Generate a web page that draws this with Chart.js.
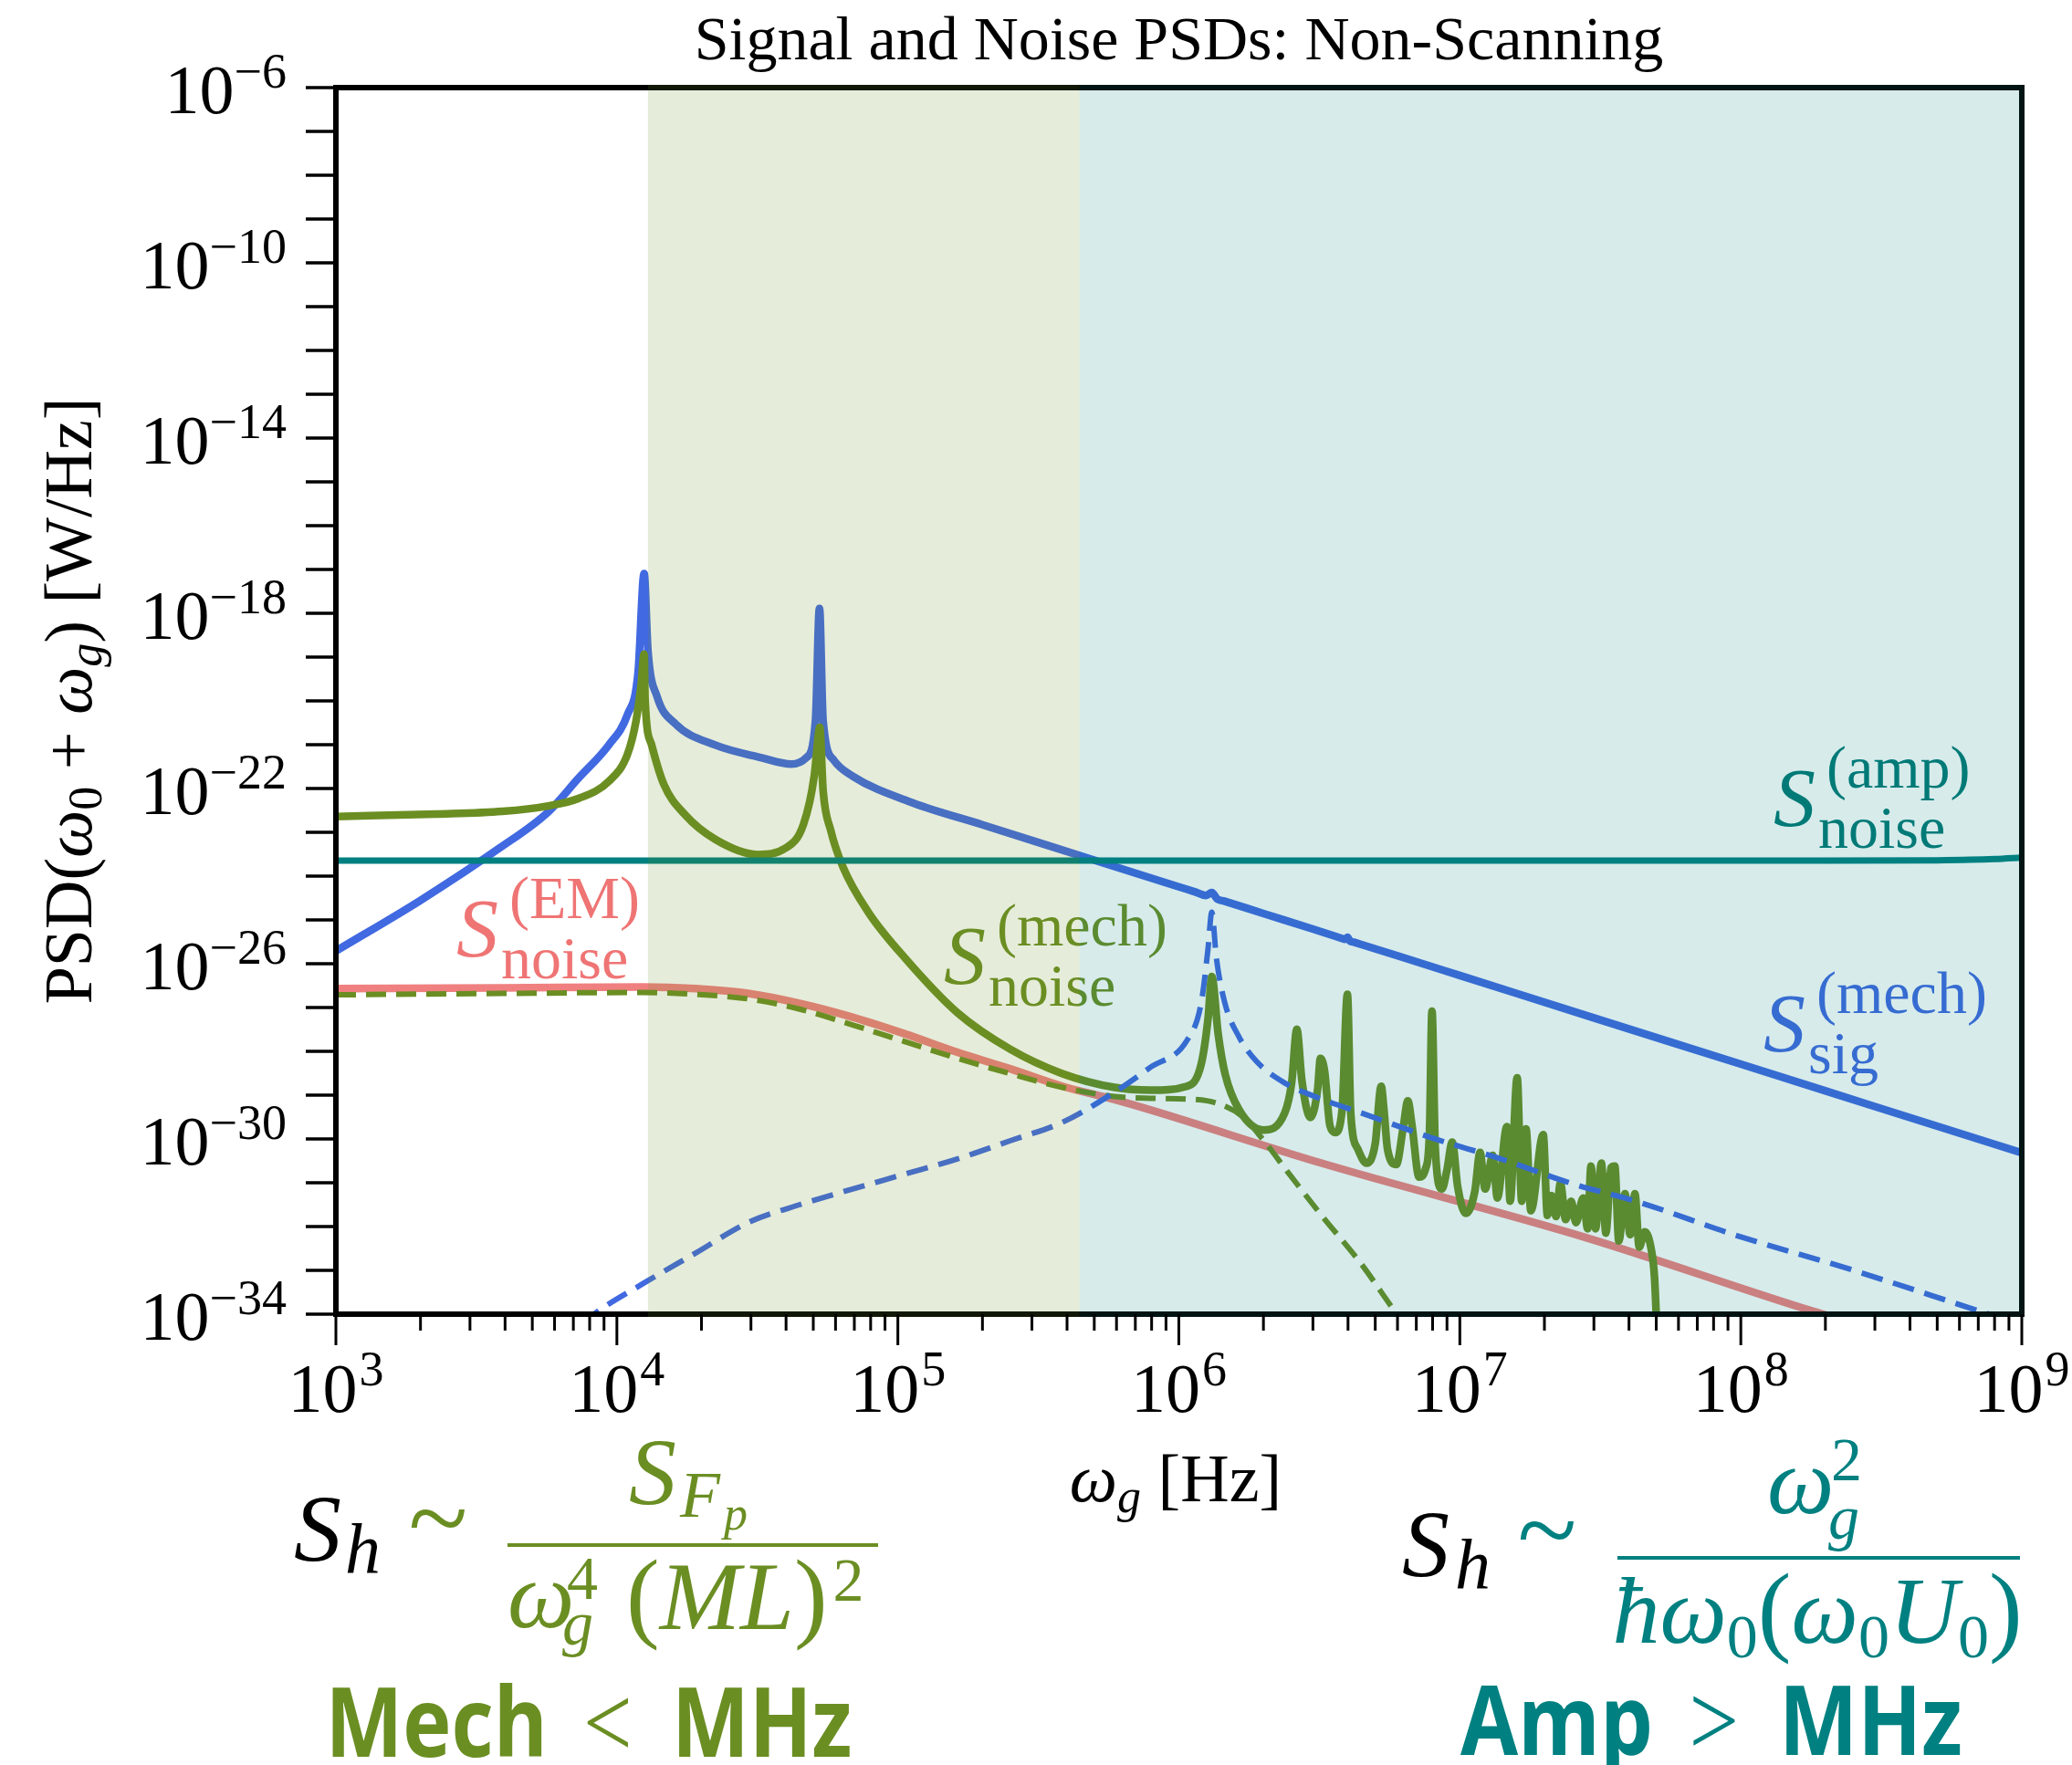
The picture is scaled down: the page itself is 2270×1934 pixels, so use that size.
<!DOCTYPE html>
<html>
<head>
<meta charset="utf-8">
<script src="https://cdn.jsdelivr.net/npm/chart.js@4.4.1/dist/chart.umd.min.js"></script>
<style>
  html, body { margin: 0; padding: 0; background: #fff; }
</style>
</head>
<body>
<canvas id="psdChart" width="2270" height="1934"></canvas>
<script>
// ===== PSD data (frequency in Hz, PSD in W/Hz) =====

const ampFreq = [1e3, 1e5, 1e7, 2e8, 5e8, 8e8, 1e9];
const ampPsd  = [2.25e-24, 2.25e-24, 2.25e-24, 2.25e-24, 2.3e-24, 2.45e-24, 2.65e-24];

const sigFreq = [1000, 2000, 3810, 5690, 7290, 9350, 10900, 11900, 12500, 12900,
  13900, 16200, 22400, 32500, 41800, 47300, 50900, 52600, 54200, 59200,
  68700, 113000, 2e5, 5e5, 1e6, 1.15e6, 1.25e6, 1.31e6, 1.37e6, 1.45e6,
  2e6, 3e6, 3.8e6, 3.9e6, 3.98e6, 4.07e6, 4.2e6, 6e6, 1e7, 3e7,
  1e8, 3e8, 1e9];
const sigPsd = [1.95e-26, 2.8e-25, 4.3e-24, 2.9e-23, 1.7e-22, 9.8e-22, 4.8e-21, 4.5e-20, 8.1e-18, 1.38e-19,
  1.26e-20, 2.95e-21, 9.8e-22, 5.1e-22, 3.6e-22, 5.1e-22, 3.5e-21, 1.29e-18, 3.5e-21, 4.4e-22,
  1.95e-22, 4.7e-23, 1.49e-23, 2.32e-24, 5.7e-25, 4.3e-25, 3.6e-25, 4.2e-25, 3.0e-25, 2.69e-25,
  1.4e-25, 6.2e-26, 3.8e-26, 3.6e-26, 4.0e-26, 3.3e-26, 3.1e-26, 1.52e-26, 5.4e-27, 5.8e-28,
  5.1e-29, 5.5e-30, 4.8e-31];

// signal without the mechanical mode (dashed blue)
const sigDashFreq = [7500, 8400, 12400, 19100, 29300, 45000, 69000, 106000, 163000, 251000,
  385000, 591000, 791000, 1.07e6, 1.20e6, 1.27e6, 1.31e6, 1.36e6, 1.46e6, 1.64e6,
  1.89e6, 2.38e6, 3.35e6, 4.47e6, 7.91e6, 1.40e7, 2.48e7, 4.40e7, 9.48e7, 2.46e8,
  7.30e8, 1e9];
const sigDashPsd = [5.8e-35, 1.07e-34, 5.0e-34, 2.5e-33, 1.23e-32, 3.2e-32, 7.2e-32, 1.58e-31, 3.5e-31, 9.1e-31,
  2.4e-30, 1.17e-29, 4.3e-29, 1.8e-28, 1.23e-27, 2.2e-26, 1.5e-25, 1.35e-26, 1.23e-27, 2.1e-28,
  5.9e-29, 1.9e-29, 7.4e-30, 3.9e-30, 1.07e-30, 3.5e-31, 9.8e-32, 3.5e-32, 6.5e-33, 1.05e-33,
  1.1e-34, 5.8e-35];

const mechFreq = [1000, 2280, 3910, 5690, 7290, 9350, 10900, 11700, 12200, 12500,
  12600, 13300, 14700, 17500, 22400, 31700, 39700, 46100, 50400, 52200,
  52700, 54200, 57700, 63800, 78500, 106000, 163000, 251000, 385000, 591000,
  791000,
  1.07e6, 1.20e6, 1.27e6, 1.31e6, 1.38e6, 1.46e6, 1.64e6, 2.00e6, 2.38e6, 2.52e6,
  2.63e6, 2.74e6, 2.94e6, 3.12e6, 3.19e6, 3.30e6, 3.45e6, 3.60e6, 3.81e6, 3.98e6,
  4.09e6, 4.34e6, 4.66e6, 5.00e6, 5.25e6, 5.37e6, 5.53e6, 5.94e6, 6.30e6, 6.53e6,
  6.76e6, 7.16e6, 7.57e6, 7.80e6, 7.96e6, 8.18e6, 8.63e6, 8.99e6, 9.40e6, 9.82e6,
  1.05e7, 1.13e7, 1.18e7, 1.23e7, 1.31e7, 1.36e7, 1.47e7, 1.51e7, 1.60e7, 1.66e7,
  1.72e7, 1.79e7, 1.98e7, 2.05e7, 2.12e7, 2.20e7, 2.28e7, 2.38e7, 2.49e7, 2.59e7,
  2.75e7, 2.85e7, 2.93e7, 3.04e7, 3.19e7, 3.31e7, 3.45e7, 3.56e7, 3.68e7, 3.87e7,
  4.04e7, 4.20e7, 4.35e7, 4.55e7, 4.80e7, 4.93e7, 5.07e7];
const mechPsd = [2.3e-23, 2.6e-23, 3.0e-23, 4.0e-23, 5.9e-23, 1.45e-22, 6.0e-22, 3.5e-21, 2.4e-20, 1.17e-19,
  1.07e-20, 9.8e-22, 1.23e-22, 2.5e-23, 6.9e-24, 3.1e-24, 4.3e-24, 1.5e-23, 1.95e-22, 1.8e-21,
  2.5e-21, 8.9e-23, 1.1e-23, 1.6e-24, 1.5e-25, 1.35e-26, 7.6e-28, 1.12e-28, 3.1e-29, 1.5e-29,
  1.3e-29,
  1.6e-29, 5.0e-29, 5.5e-28, 5.1e-27, 2.5e-28, 3.1e-29, 4.6e-30, 1.6e-30, 3.9e-30, 1.9e-29,
  3.2e-28, 2.2e-29, 3.1e-30, 1.4e-29, 6.9e-29, 3.6e-29, 2.0e-30, 1.4e-30, 4.6e-30, 2.0e-27,
  3.9e-30, 5.8e-31, 2.8e-31, 7.9e-31, 1.6e-29, 4.6e-30, 5.8e-31, 2.6e-31, 2.0e-30, 7.4e-30,
  2.0e-30, 1.35e-31, 2.2e-31, 1.5e-30, 8.3e-28, 5.8e-31, 7.2e-32, 1.9e-31, 8.5e-31, 8.3e-32,
  2.0e-32, 6.2e-32, 4.9e-31, 7.2e-32, 4.2e-31, 4.5e-32, 1.9e-30, 3.8e-32, 2.5e-29, 3.8e-32,
  1.7e-30, 2.3e-32, 1.26e-30, 1.8e-32, 5.1e-32, 1.7e-32, 9.8e-32, 1.45e-32, 3.8e-32, 1.23e-32,
  4.5e-32, 8.9e-33, 2.4e-31, 8.9e-33, 2.8e-31, 7.1e-33, 2.2e-31, 2.4e-31, 4.7e-33, 5.6e-32,
  6.5e-33, 5.6e-32, 3.4e-33, 7.6e-33, 3.0e-33, 6.9e-34, 1e-35];

// smooth mechanical noise floor without the modes (dashed green)
const mechDashFreq = [1000, 3910, 12400, 19100, 29300, 45000, 69000, 106000, 163000, 251000,
  385000, 591000, 791000, 1.09e6, 1.36e6, 1.68e6, 1.98e6, 2.45e6, 3.22e6, 4.46e6,
  5.97e6, 7.66e6];
const mechDashPsd = [1.95e-27, 2.1e-27, 2.2e-27, 2.0e-27, 1.58e-27, 9.1e-28, 4.0e-28, 1.66e-28, 6.9e-29, 3.1e-29,
  1.5e-29, 9.3e-30, 8.5e-30, 8.1e-30, 6.6e-30, 3.3e-30, 1.02e-30, 1.7e-31, 1.8e-32, 1.4e-33,
  1.0e-34, 1.26e-35];

const emFreq = [1000, 3910, 12400, 19100, 29300, 45000, 69000, 106000, 163000, 251000,
  385000, 591000, 791000, 3.22e6, 2.81e7, 1.82e8, 2.45e8];
const emPsd = [2.7e-27, 2.8e-27, 2.95e-27, 2.7e-27, 2.1e-27, 1.23e-27, 6.0e-28, 2.5e-28, 9.5e-29, 4.0e-29,
  1.6e-29, 7.9e-30, 4.6e-30, 2.8e-31, 5.6e-33, 1.15e-34, 6.6e-35];

// shaded bands: mechanical-limited and amplifier-limited ranges
const mechBand = [1.29e4, 4.43e5];
const ampBand = [4.43e5, 1e9];

// axis decades
const xTickExps = [3, 4, 5, 6, 7, 8, 9];
const yTickExps = [-6, -10, -14, -18, -22, -26, -30, -34];

const SERIF = '"Liberation Serif", "DejaVu Serif", serif';
const SANS = '"Open Sans", "DejaVu Sans", sans-serif';
const rm = s => `${s}px ${SERIF}`;
const it = s => `italic ${s}px ${SERIF}`;
const bf = s => `bold ${s}px ${SANS}`;

const OLIVE = '#6b8e23';
const TEAL = '#008080';
const BLUE = '#4169e1';
const CORAL = '#f08080';

function toPoints(freqs, vals) {
    return freqs.map((f, i) => ({ x: f, y: vals[i] }));
}

function measureRuns(ctx, parts) {
    let total = 0;
    parts.forEach(p => {
        ctx.font = p.f;
        p.w = ctx.measureText(p.t).width;
        total += p.w + (p.gap || 0);
    });
    return total;
}

// draws a row of text pieces with their own fonts / offsets
function drawRuns(ctx, parts, x, y, align) {
    const total = measureRuns(ctx, parts);
    let cx = align === 'center' ? x - total / 2 : align === 'right' ? x - total : x;
    ctx.textAlign = 'left';
    parts.forEach(p => {
        cx += p.gap || 0;
        ctx.font = p.f;
        if (p.c) ctx.fillStyle = p.c;
        ctx.fillText(p.t, cx, y + (p.dy || 0));
        cx += p.w;
    });
}

// same, squeezed horizontally to a given width (centred on x)
function drawRunsFit(ctx, parts, x, y, width) {
    const total = measureRuns(ctx, parts);
    ctx.save();
    ctx.translate(x - width / 2, y);
    ctx.scale(width / total, 1);
    drawRuns(ctx, parts, 0, 0, 'left');
    ctx.restore();
}

// S with superscript and subscript, used for the curve labels
function drawSymbol(ctx, x, y, sup, sub, color) {
    ctx.fillStyle = color;
    ctx.textAlign = 'left';
    ctx.font = it(92);
    ctx.fillText('S', x, y);
    ctx.font = rm(66);
    ctx.fillText(sup, x + 58, y - 42);
    ctx.fillText(sub, x + 49, y + 24);
}

function drawTilde(ctx, cx, cy, color) {
    ctx.font = rm(120);
    ctx.fillStyle = color;
    const m = ctx.measureText('~');
    const h = m.actualBoundingBoxAscent - m.actualBoundingBoxDescent;
    ctx.textAlign = 'center';
    ctx.fillText('~', cx, cy + h / 2 + m.actualBoundingBoxDescent);
    ctx.textAlign = 'left';
}

const decorPlugin = {
    id: 'psdDecor',
    afterDatasetsDraw(chart) {
        const { ctx, chartArea: a, scales: { x, y } } = chart;
        ctx.save();
        ctx.textBaseline = 'alphabetic';

        // curve labels
        drawSymbol(ctx, 500, 1048, '(EM)', 'noise', '#ef7474');
        drawSymbol(ctx, 1034, 1078, '(mech)', 'noise', OLIVE);
        drawSymbol(ctx, 1943, 905, '(amp)', 'noise', '#007a76');
        drawSymbol(ctx, 1932, 1152, '(mech)', 'sig', BLUE);

        // frame
        ctx.strokeStyle = '#000';
        ctx.lineWidth = 6;
        ctx.strokeRect(a.left, a.top, a.right - a.left, a.bottom - a.top);

        // shaded bands laid over everything inside the axes
        ctx.save();
        ctx.beginPath();
        ctx.rect(a.left - 3, a.top - 3, a.right - a.left + 6, a.bottom - a.top + 6);
        ctx.clip();
        const band = (r, fill) => {
            const x0 = x.getPixelForValue(r[0]);
            const x1 = r[1] >= x.max ? a.right + 3 : x.getPixelForValue(r[1]);
            ctx.fillStyle = fill;
            ctx.fillRect(x0, a.top - 3, x1 - x0, a.bottom - a.top + 6);
        };
        band(mechBand, 'rgba(107, 142, 35, 0.17)');
        band(ampBand, 'rgba(0, 128, 128, 0.155)');
        ctx.restore();

        // ticks
        ctx.fillStyle = '#000';
        for (let e = -34; e <= -6; e++) {
            const py = y.getPixelForValue(Math.pow(10, e));
            ctx.fillRect(a.left - 33, py - 1.75, 33, 3.5);
        }
        for (let e = 3; e <= 9; e++) {
            const px = x.getPixelForValue(Math.pow(10, e));
            ctx.fillRect(px - 1.5, a.bottom, 3, 34);
            if (e < 9) {
                for (let m = 2; m <= 9; m++) {
                    const q = x.getPixelForValue(m * Math.pow(10, e));
                    ctx.fillRect(q - 1.5, a.bottom, 3, 18);
                }
            }
        }

        // tick labels
        yTickExps.forEach(e => {
            const py = y.getPixelForValue(Math.pow(10, e));
            drawRuns(ctx, [
                { t: '10', f: rm(76) },
                { t: '\u2212' + Math.abs(e), f: rm(54), dy: -28 }
            ], 314, py + 28, 'right');
        });
        xTickExps.forEach(e => {
            const px = x.getPixelForValue(Math.pow(10, e));
            drawRuns(ctx, [
                { t: '10', f: rm(76) },
                { t: String(e), f: rm(54), dy: -29, gap: 2 }
            ], px, 1547, 'center');
        });

        // title and axis titles
        ctx.fillStyle = '#000';
        ctx.font = rm(68);
        ctx.textAlign = 'center';
        ctx.fillText('Signal and Noise PSDs: Non-Scanning', (a.left + a.right) / 2, 65);

        drawRuns(ctx, [
            { t: '\u03c9', f: it(74) },
            { t: 'g', f: it(52), dy: 12 },
            { t: ' [Hz]', f: rm(74) }
        ], 1288, 1645, 'center');

        ctx.save();
        ctx.translate(100, (a.top + a.bottom) / 2);
        ctx.rotate(-Math.PI / 2);
        drawRuns(ctx, [
            { t: 'PSD(', f: rm(74) },
            { t: '\u03c9', f: it(74) },
            { t: '0', f: rm(52), dy: 11 },
            { t: ' + ', f: rm(74) },
            { t: '\u03c9', f: it(74) },
            { t: 'g', f: it(52), dy: 11 },
            { t: ') [W/Hz]', f: rm(74) }
        ], 0, 0, 'center');
        ctx.restore();

        // mechanical-limited scaling, lower left
        ctx.fillStyle = '#000';
        ctx.font = it(104);
        ctx.textAlign = 'left';
        ctx.fillText('S', 322, 1710);
        ctx.font = it(78);
        ctx.fillText('h', 378, 1724);
        drawTilde(ctx, 480, 1693, OLIVE);
        ctx.fillStyle = OLIVE;
        ctx.fillRect(556, 1691, 406, 4);
        ctx.font = it(104);
        ctx.fillText('S', 689, 1648);
        ctx.font = it(72);
        ctx.fillText('F', 745, 1662);
        ctx.font = it(52);
        ctx.fillText('p', 793, 1676);
        ctx.font = it(104);
        ctx.fillText('\u03c9', 556, 1783);
        ctx.font = rm(68);
        ctx.fillText('4', 621, 1752);
        ctx.font = it(68);
        ctx.fillText('g', 616, 1802);
        drawRuns(ctx, [
            { t: '(', f: rm(110) },
            { t: 'ML', f: it(106) },
            { t: ')', f: rm(110) },
            { t: '2', f: rm(68), dy: -31, gap: 6 }
        ], 686, 1785, 'left');

        // amplifier-limited scaling, lower right
        ctx.fillStyle = '#000';
        ctx.font = it(104);
        ctx.fillText('S', 1536, 1727);
        ctx.font = it(78);
        ctx.fillText('h', 1594, 1741);
        drawTilde(ctx, 1695, 1706, TEAL);
        ctx.fillStyle = TEAL;
        ctx.fillRect(1772, 1705, 441, 4);
        ctx.font = it(104);
        ctx.fillText('\u03c9', 1936, 1658);
        ctx.font = rm(68);
        ctx.fillText('2', 2006, 1622);
        ctx.font = it(68);
        ctx.fillText('g', 2003, 1686);
        drawRuns(ctx, [
            { t: '\u0127\u03c9', f: it(104) },
            { t: '0', f: rm(68), dy: 16 },
            { t: '(', f: rm(110) },
            { t: '\u03c9', f: it(104) },
            { t: '0', f: rm(68), dy: 16 },
            { t: 'U', f: it(104) },
            { t: '0', f: rm(68), dy: 16 },
            { t: ')', f: rm(110) }
        ], 1991, 1800, 'center');

        // regime captions
        drawRunsFit(ctx, [
            { t: 'Mech', f: bf(106), c: OLIVE },
            { t: '<', f: rm(112), gap: 46 },
            { t: 'MHz', f: bf(106), gap: 51 }
        ], 645, 1925, 577);
        drawRunsFit(ctx, [
            { t: 'Amp', f: bf(106), c: TEAL },
            { t: '>', f: rm(112), gap: 46 },
            { t: 'MHz', f: bf(106), gap: 51 }
        ], 1875, 1923, 550);

        ctx.restore();
    }
};

const lineDefaults = {
    pointRadius: 0,
    fill: false,
    cubicInterpolationMode: 'monotone',
    borderJoinStyle: 'round',
    clip: 0
};

const ctx = document.getElementById('psdChart').getContext('2d');
new Chart(ctx, {
    type: 'line',
    data: {
        datasets: [
            { ...lineDefaults, label: 'amp noise', data: toPoints(ampFreq, ampPsd),
              borderColor: TEAL, borderWidth: 7, order: 0 },
            { ...lineDefaults, label: 'signal (no mode)', data: toPoints(sigDashFreq, sigDashPsd),
              borderColor: BLUE, borderWidth: 6, borderDash: [24, 12], order: 1 },
            { ...lineDefaults, label: 'mech noise', data: toPoints(mechFreq, mechPsd),
              borderColor: OLIVE, borderWidth: 8.5, borderCapStyle: 'round', order: 2 },
            { ...lineDefaults, label: 'signal', data: toPoints(sigFreq, sigPsd),
              borderColor: BLUE, borderWidth: 8.5, borderCapStyle: 'round', order: 3 },
            { ...lineDefaults, label: 'mech floor', data: toPoints(mechDashFreq, mechDashPsd),
              borderColor: OLIVE, borderWidth: 6, borderDash: [22, 11], order: 4 },
            { ...lineDefaults, label: 'EM noise', data: toPoints(emFreq, emPsd),
              borderColor: CORAL, borderWidth: 8.5, order: 5 }
        ]
    },
    options: {
        responsive: false,
        devicePixelRatio: 1,
        animation: false,
        layout: { padding: { left: 368, right: 55, top: 96, bottom: 494 } },
        plugins: {
            legend: { display: false },
            tooltip: { enabled: false },
            title: { display: false }
        },
        scales: {
            x: { type: 'logarithmic', min: 1e3, max: 1e9, display: false },
            y: { type: 'logarithmic', min: 1e-34, max: 1e-6, display: false }
        }
    },
    plugins: [decorPlugin]
});
</script>
</body>
</html>
